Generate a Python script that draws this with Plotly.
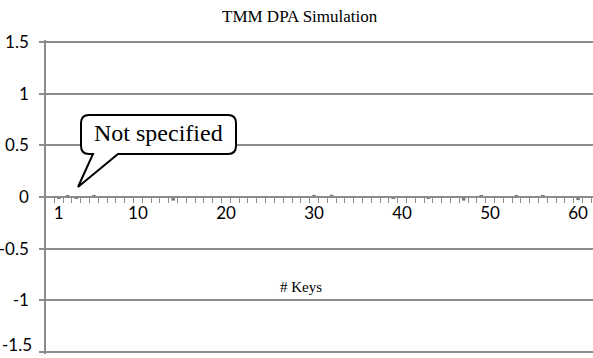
import plotly.graph_objects as go

# ---- data ----
keys = list(range(1, 62))
values = [-0.02, 0.015, -0.01, 0.004, 0.018, -0.004, 0.003, -0.004, 0.003, -0.005,
          -0.008, 0.003, -0.006, -0.035, 0.004, -0.003, 0.003, -0.005, 0.002, -0.004,
          0.003, -0.003, 0.002, -0.004, 0.003, -0.002, 0.003, -0.004, 0.005, 0.02,
          -0.004, 0.022, -0.003, 0.003, -0.004, 0.002, -0.003, 0.004, -0.012, 0.003,
          -0.004, 0.003, -0.01, 0.004, -0.003, 0.003, -0.035, 0.004, 0.012, 0.004,
          -0.003, 0.004, 0.015, -0.004, 0.003, 0.016, -0.003, 0.004, -0.006, -0.03,
          0.004]
x_tickvals = [1, 10, 20, 30, 40, 50, 60]
x_ticktext = ["1", "10", "20", "30", "40", "50", "60"]
y_tickvals = [1.5, 1, 0.5, 0, -0.5, -1, -1.5]
y_ticktext = ["1.5", "1", "0.5", "0", "-0.5", "-1", ""]
y_bottom_text = "-1.5"
title_text = "TMM DPA Simulation"
xaxis_title = "# Keys"
callout_text = "Not specified"

# ---- geometry ----
W_IMG, H_IMG = 593, 358
EPS = 0.02
ML, MR, MT, MB = 46, 0, 40, 4
PW = W_IMG - ML - MR
PH = H_IMG - MT - MB
X_MIN, X_MAX = -0.45, 61.7


def px(xp):
    return (xp - ML) / PW


def py(yp):
    return 1 - (yp - MT) / PH


GRID = "#8c8c8c"
TICKFONT = dict(family="Lato, Open Sans, sans-serif", size=17, color="#000000")
SERIF = "Liberation Serif, Times New Roman, serif"

fig = go.Figure()
fig.add_trace(go.Bar(x=keys, y=values, marker=dict(color="#7a7a7a", line=dict(width=0)),
                     showlegend=False))

fig.add_annotation(text=y_bottom_text, x=px(ML - 12), y=py(357), xref="paper", yref="paper",
                   xanchor="right", yanchor="bottom", showarrow=False, font=TICKFONT)

# callout bubble path (pixel coords -> paper)
x1, x2, y1, y2, r = 81, 236, 115, 154, 8
pts = [
    ("M", [(x1 + r, y1)]),
    ("L", [(x2 - r, y1)]),
    ("Q", [(x2, y1), (x2, y1 + r)]),
    ("L", [(x2, y2 - r)]),
    ("Q", [(x2, y2), (x2 - r, y2)]),
    ("L", [(118, y2)]),
    ("L", [(78, 187)]),
    ("L", [(93, y2)]),
    ("L", [(x1 + r, y2)]),
    ("Q", [(x1, y2), (x1, y2 - r)]),
    ("L", [(x1, y1 + r)]),
    ("Q", [(x1, y1), (x1 + r, y1)]),
]
path = ""
for cmd, ps in pts:
    path += cmd + " " + " ".join(f"{px(a):.5f},{py(b):.5f}" for a, b in ps) + " "
path += "Z"
fig.add_shape(type="path", path=path, xref="paper", yref="paper",
              line=dict(color="#000000", width=2), fillcolor="#ffffff", layer="above")

for txt, xp, yp, size in [(callout_text, 158, 133, 24), (title_text, 300, 17, 17),
                          (xaxis_title, 301, 287, 15)]:
    fig.add_annotation(text=txt, x=px(xp), y=py(yp), xref="paper", yref="paper",
                       xanchor="center", yanchor="middle", showarrow=False,
                       font=dict(family=SERIF, size=size, color="#000000"))

fig.update_layout(
    width=W_IMG, height=H_IMG,
    margin=dict(l=ML, r=MR, t=MT, b=MB, pad=0),
    paper_bgcolor="#ffffff", plot_bgcolor="#ffffff",
    bargap=0.6,
    xaxis=dict(range=[X_MIN, X_MAX], anchor="free", position=0.5,
               tickmode="array", tickvals=x_tickvals, ticktext=x_ticktext,
               ticks="", showgrid=False, zeroline=False,
               showline=True, linecolor=GRID, linewidth=2,
               tickfont=TICKFONT, ticklabelstandoff=1,
               minor=dict(tickmode="linear", tick0=0.5, dtick=1, ticks="outside",
                          ticklen=5, tickcolor=GRID, tickwidth=1, showgrid=False)),
    yaxis=dict(range=[-1.5 - EPS, 1.5 + EPS], tickmode="array", tickvals=y_tickvals,
               ticktext=y_ticktext,
               showgrid=True, gridcolor=GRID, gridwidth=1.5, zeroline=False,
               showline=True, linecolor=GRID, linewidth=1.5,
               ticks="outside", ticklen=5, tickcolor=GRID, tickwidth=1.5,
               tickfont=TICKFONT, ticklabelstandoff=7),
)

fig.write_html("out.html")
